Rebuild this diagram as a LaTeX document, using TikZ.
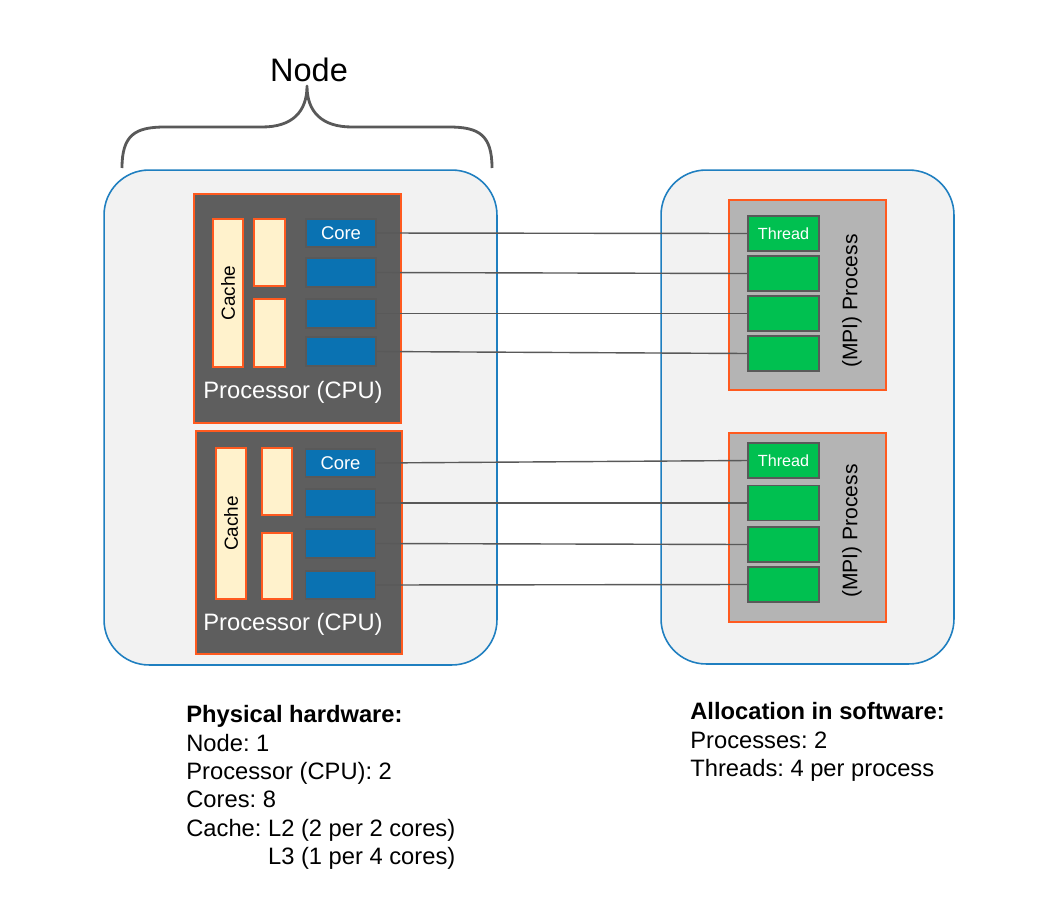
\documentclass[tikz,border=0pt]{standalone}
\usepackage{fontspec}
\setmainfont{Liberation Sans}
\frenchspacing
\definecolor{nodeblue}{HTML}{1F7FC0}
\definecolor{boxgray}{HTML}{F2F2F2}
\definecolor{hwred}{HTML}{FF5A1F}
\definecolor{cpugray}{HTML}{5E5E5E}
\definecolor{cacheyellow}{HTML}{FFF2CC}
\definecolor{coreblue}{HTML}{0A72B2}
\definecolor{edgegray}{HTML}{595959}
\definecolor{procgray}{HTML}{B4B4B4}
\definecolor{threadgreen}{HTML}{00C050}

\begin{document}
\begin{tikzpicture}[x=0.02cm,y=-0.02cm]
  % Settings
  \tikzset{
    box/.style={draw=nodeblue, fill=boxgray, line width=0.9pt, rounded corners=0.9cm, inner sep=0pt},
    cpu/.style={draw=hwred, fill=cpugray, line width=1.1pt, inner sep=0pt},
    cache/.style={draw=hwred, fill=cacheyellow, line width=1.1pt, rotate=90, inner sep=0pt, font=\fontsize{10.8}{13}\selectfont},
    core/.style={draw=edgegray, fill=coreblue, line width=1pt, minimum width=1.4cm, minimum height=0.57cm, inner sep=0pt, text=white, font=\fontsize{10.5}{12}\selectfont},
    proc/.style={draw=hwred, fill=procgray, line width=1.1pt, minimum width=3.14cm, inner sep=0pt},
    thread/.style={draw=edgegray, fill=threadgreen, line width=1.1pt, minimum width=1.42cm, minimum height=0.7cm, inner sep=0pt, text=white, font=\fontsize{9.2}{11}\selectfont},
    link/.style={draw=edgegray, line width=0.8pt},
    curly/.style={draw=edgegray, line width=1.6pt, line join=round},
    note/.style={align=left, inner sep=0pt, anchor=north west, font=\fontsize{13.5}{16.2}\selectfont},
  }
  \useasboundingbox[fill=white] (0,0) rectangle (1057,906);

  % Outer boxes
  \node[box, minimum width=7.86cm, minimum height=9.9cm] (hw) at (300.5,417.5) {};
  \node[box, minimum width=5.86cm, minimum height=9.88cm] (sw) at (807.5,417) {};

  % Brace and label
  \node[font=\fontsize{18.5}{22}\selectfont] (nodelab) at (309,70) {Node};
  \draw[curly] (122,168) .. controls (122,135) and (135,127) .. (165,127) -- (262,127)
    .. controls (292,127) and (307,112) .. (307,86)
    .. controls (307,112) and (322,127) .. (352,127) -- (449,127)
    .. controls (479,127) and (492,135) .. (492,168);

  % Processor 1
  \node[cpu, minimum width=4.14cm, minimum height=4.58cm] (cpu1) at (297.5,308.5) {};
  \node[cache, minimum width=2.96cm, minimum height=0.6cm] (l3a) at (228,293) {Cache};
  \node[cache, minimum width=1.34cm, minimum height=0.62cm] (l2a1) at (269.5,252.5) {};
  \node[cache, minimum width=1.36cm, minimum height=0.62cm] (l2a2) at (269.5,333) {};
  \node[core] (corea1) at (341,233) {Core};
  \foreach \y [count=\i from 2] in {272.5,313.5,351.5}
    \node[core] (corea\i) at (341,\y) {};
  \node[text=white, font=\fontsize{13.5}{16}\selectfont] (cpulab1) at (293,392) {Processor (CPU)};

  % Processor 2
  \node[cpu, minimum width=4.12cm, minimum height=4.46cm] (cpu2) at (299,542.5) {};
  \node[cache, minimum width=3.02cm, minimum height=0.6cm] (l3b) at (231,523.5) {Cache};
  \node[cache, minimum width=1.34cm, minimum height=0.6cm] (l2b1) at (277,481.5) {};
  \node[cache, minimum width=1.32cm, minimum height=0.6cm] (l2b2) at (277,566) {};
  \node[core] (coreb1) at (340.5,463) {Core};
  \foreach \y [count=\i from 2] in {503,543.5,585}
    \node[core] (coreb\i) at (340.5,\y) {};
  \node[text=white, font=\fontsize{13.5}{16}\selectfont] (cpulab2) at (293,624) {Processor (CPU)};

  % Process 1
  \node[proc, minimum height=3.8cm] (proc1) at (807.5,295) {};
  \node[thread] (threada1) at (783.5,233.5) {Thread};
  \foreach \y [count=\i from 2] in {273.5,313.5,353.5}
    \node[thread] (threada\i) at (783.5,\y) {};
  \node[rotate=90, font=\fontsize{12}{14}\selectfont] (proclab1) at (852,301) {(MPI) Process};

  % Process 2
  \node[proc, minimum height=3.78cm] (proc2) at (807.5,527.5) {};
  \node[thread] (threadb1) at (783.5,460.5) {Thread};
  \foreach \y [count=\i from 2] in {503,544.5,584.5}
    \node[thread] (threadb\i) at (783.5,\y) {};
  \node[rotate=90, font=\fontsize{12}{14}\selectfont] (proclab2) at (852,531) {(MPI) Process};

  % Links
  \foreach \i in {1,...,4} {
    \draw[link] (corea\i.east) -- (threada\i.west);
    \draw[link] (coreb\i.east) -- (threadb\i.west);
  }

  % Summary
  \node[note] (hwnote) at (186,705) {\textbf{Physical hardware:}\\Node: 1\\Processor (CPU): 2\\Cores: 8\\Cache: L2 (2 per 2 cores)\\\hphantom{Cache: }L3 (1 per 4 cores)};
  \node[note] (swnote) at (690,702) {\textbf{Allocation in software:}\\Processes: 2\\Threads: 4 per process};

\end{tikzpicture}
\end{document}
